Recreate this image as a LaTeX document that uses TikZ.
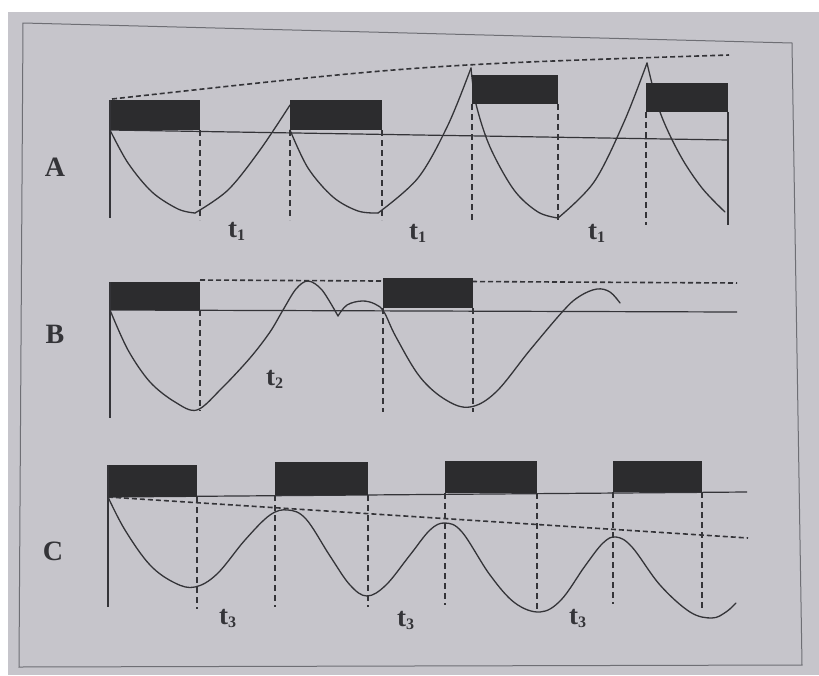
\documentclass[tikz,border=0pt]{standalone}
\usepackage{fontspec}
\setmainfont{Liberation Serif}
\definecolor{bg}{RGB}{198,197,203}
\definecolor{ink}{RGB}{52,52,56}
\definecolor{boxink}{RGB}{44,44,46}
\definecolor{framec}{RGB}{110,110,116}
\newcommand\tsub[1]{t\raisebox{-3pt}{\fontsize{16}{16}\selectfont #1}}
\tikzset{
  curve/.style={ink, line width=1.3pt, line cap=round, line join=round},
  baseline/.style={ink, line width=1.2pt},
  dashv/.style={ink, line width=1.2pt, dash pattern=on 6pt off 4pt},
  dashtop/.style={ink, line width=1.6pt, dash pattern=on 5pt off 3pt},
  blk/.style={fill=boxink, draw=none},
  panlbl/.style={font=\fontsize{28}{30}\selectfont\bfseries, text=ink, inner sep=0pt},
  tlbl/.style={font=\fontsize{27}{30}\selectfont\bfseries, text=ink, inner sep=0pt, anchor=base west}
}
\begin{document}
\begin{tikzpicture}[x=1pt,y=-1pt]
\useasboundingbox (0,0) rectangle (819,675);
\fill[white] (0,0) rectangle (819,675);
\fill[bg] (8,12) rectangle (819,675);
\draw[framec, line width=1pt] (23,23) -- (792,43) -- (802,665) -- (19,667) -- cycle;

% ---------------- Panel A ----------------
\draw[dashtop] (112,99) .. controls (420,65) .. (729,55);
\draw[curve] plot[smooth, tension=0.55] coordinates {(110,130) (128,163) (152,192) (178,209) (195,213)};
\draw[curve] plot[smooth, tension=0.55] coordinates {(195,213) (228,190) (260,150) (290,105)};
\draw[curve] plot[smooth, tension=0.55] coordinates {(290,130) (308,168) (333,197) (358,211) (378,213)};
\draw[curve] plot[smooth, tension=0.55] coordinates {(378,213) (418,178) (448,125) (471,68)};
\draw[curve] plot[smooth, tension=0.55] coordinates {(471,68) (476,104) (490,147) (514,190) (538,212) (558,218)};
\draw[curve] plot[smooth, tension=0.55] coordinates {(558,218) (594,182) (624,122) (647,63)};
\draw[curve] plot[smooth, tension=0.55] coordinates {(647,63) (660,112) (680,155) (702,188) (725,212)};
\draw[baseline] (110,130) -- (728,140);
\fill[blk] (110,100) rectangle (200,130);
\fill[blk] (290,100) rectangle (382,130);
\fill[blk] (472,75) rectangle (558,104);
\fill[blk] (646,83) rectangle (728,112);
\draw[baseline] (110,100) -- (110,218);
\draw[dashv] (200,130) -- (200,220);
\draw[dashv] (290,130) -- (290,220);
\draw[dashv] (382,130) -- (382,220);
\draw[dashv] (472,104) -- (472,220);
\draw[dashv] (558,104) -- (558,222);
\draw[dashv] (646,112) -- (646,225);
\draw[baseline] (728,112) -- (728,225);
\node[panlbl] (lA) at (55,167) {A};
\node[tlbl] (t1a) at (228,237) {\tsub{1}};
\node[tlbl] (t1b) at (409,239) {\tsub{1}};
\node[tlbl] (t1c) at (588,239) {\tsub{1}};

% ---------------- Panel B ----------------
\draw[dashtop] (200,280) -- (737,283);
\draw[curve] plot[smooth, tension=0.55] coordinates {(110,310) (128,350) (150,382) (175,402) (197,410) (222,388) (250,358) (270,332) (283,310) (296,289) (308,281) (322,290) (338,316)};
\draw[curve] plot[smooth, tension=0.6] coordinates {(338,316) (347,305) (362,301) (375,304) (384,312) (396,337) (420,377) (446,400) (470,407) (496,392) (530,350) (564,310) (580,296) (597,289) (610,292) (620,303)};
\draw[baseline] (110,310) -- (737,312);
\fill[blk] (110,282) rectangle (200,310);
\fill[blk] (383,278) rectangle (473,308);
\draw[baseline] (110,282) -- (110,418);
\draw[dashv] (200,310) -- (200,411);
\draw[dashv] (383,308) -- (383,412);
\draw[dashv] (473,308) -- (473,412);
\node[panlbl] (lB) at (55,334) {B};
\node[tlbl] (t2) at (266,385) {\tsub{2}};

% ---------------- Panel C ----------------
\draw[dashtop] (108,497) -- (748,538);
\draw[curve] plot[smooth, tension=0.6] coordinates {(108,497) (125,530) (150,565) (175,583) (195,587) (217,574) (245,540) (270,515) (288,510) (306,519) (330,556) (350,585) (367,596) (386,585) (410,555) (430,530) (445,523) (462,532) (490,575) (515,603) (540,612) (561,600) (585,566) (603,543) (616,537) (632,547) (660,585) (690,612) (712,618) (726,612) (736,603)};
\draw[baseline] (108,497) -- (747,492);
\fill[blk] (108,465) rectangle (197,497);
\fill[blk] (275,462) rectangle (368,495);
\fill[blk] (445,461) rectangle (537,493);
\fill[blk] (613,461) rectangle (702,492);
\draw[baseline] (108,465) -- (108,607);
\draw[dashv] (197,497) -- (197,609);
\draw[dashv] (275,495) -- (275,607);
\draw[dashv] (368,495) -- (368,607);
\draw[dashv] (445,493) -- (445,605);
\draw[dashv] (537,493) -- (537,610);
\draw[dashv] (613,492) -- (613,604);
\draw[dashv] (702,492) -- (702,608);
\node[panlbl] (lC) at (53,551) {C};
\node[tlbl] (t3a) at (219,624) {\tsub{3}};
\node[tlbl] (t3b) at (397,626) {\tsub{3}};
\node[tlbl] (t3c) at (569,624) {\tsub{3}};
\end{tikzpicture}
\end{document}
